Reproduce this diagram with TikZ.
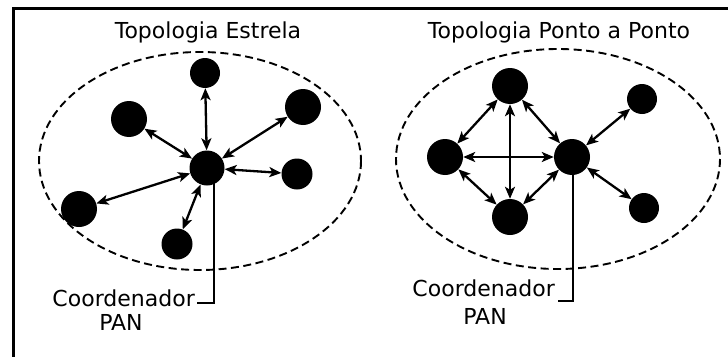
\documentclass[tikz,border=0pt]{standalone}
\usepackage{fontspec}
\setmainfont{DejaVu Sans}
\usetikzlibrary{arrows.meta}
\begin{document}
\begin{tikzpicture}[x=1pt,y=-1pt,
  dev/.style={circle,fill=black,inner sep=0pt},
  link/.style={line width=2.3pt,{Stealth[length=12pt,width=10pt,inset=3pt]}-{Stealth[length=12pt,width=10pt,inset=3pt]}},
  zone/.style={line width=1.9pt,dash pattern=on 8pt off 4.5pt},
  bracket/.style={line width=2pt},
  lbl/.style={inner sep=0pt,font=\fontsize{22}{26}\selectfont}]
\useasboundingbox (0,0) rectangle (728,356);
\fill[white] (0,0) rectangle (728,356);
\draw[line width=3pt] (13,360) -- (13,8) -- (730,8);
% left: star
\node[lbl,anchor=base] (t1) at (208,38) {Topologia Estrela};
\draw[zone] (200,161) ellipse [x radius=161, y radius=109];
\node[dev,minimum size=35pt] (hub1) at (207,168) {};
\node[dev,minimum size=30pt] (n1) at (205,73) {};
\node[dev,minimum size=36pt] (n2) at (129,119) {};
\node[dev,minimum size=36pt] (n3) at (303,107) {};
\node[dev,minimum size=31pt] (n4) at (297,174) {};
\node[dev,minimum size=36pt] (n5) at (79,209) {};
\node[dev,minimum size=31pt] (n6) at (177,244) {};
\foreach \n in {n1,n2,n3,n4,n5,n6} \draw[link] (hub1) -- (\n);
\node[lbl,anchor=base east] (c1) at (195,306) {Coordenador};
\node[lbl,anchor=base] (p1) at (121,330) {PAN};
\coordinate (b1) at (197,303);
\draw[bracket] ([xshift=7pt]hub1.center) |- (b1);
% right: peer to peer
\node[lbl,anchor=base] (t2) at (559,38) {Topologia Ponto a Ponto};
\draw[zone] (558,159) ellipse [x radius=162, y radius=110];
\node[dev,minimum size=36pt] (hub2) at (572,157) {};
\node[dev,minimum size=36pt] (m1) at (510,86) {};
\node[dev,minimum size=36pt] (m2) at (445,157) {};
\node[dev,minimum size=36pt] (m3) at (510,217) {};
\node[dev,minimum size=30pt] (m4) at (642,99) {};
\node[dev,minimum size=30pt] (m5) at (644,208) {};
\draw[link] (m1) -- (m2);
\draw[link] (m1) -- (m3);
\draw[link] (m1) -- (hub2);
\draw[link] (m2) -- (hub2);
\draw[link] (m2) -- (m3);
\draw[link] (m3) -- (hub2);
\draw[link] (hub2) -- (m4);
\draw[link] (hub2) -- (m5);
\node[lbl,anchor=base east] (c2) at (555,296) {Coordenador};
\node[lbl,anchor=base] (p2) at (485,324) {PAN};
\coordinate (b2) at (558,301);
\draw[bracket] ([xshift=1pt]hub2.center) |- (b2);
\end{tikzpicture}
\end{document}
